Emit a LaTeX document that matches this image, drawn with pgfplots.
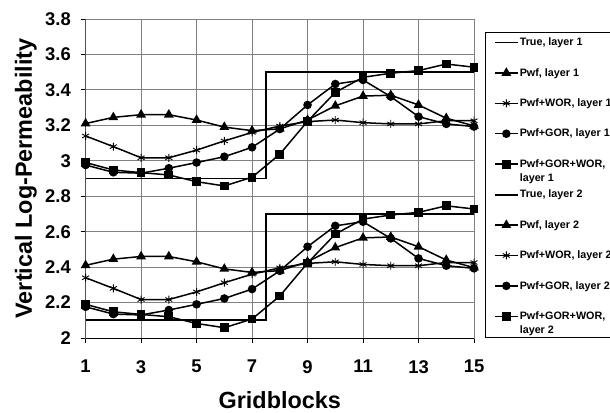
\documentclass[border=0pt]{standalone}
\usepackage{fontspec}
\setmainfont{Liberation Sans}
\usepackage{pgfplots}
\pgfplotsset{compat=1.18}

% Estimated vertical log-permeability along the gridblocks, layer 1
\pgfplotstableread{
x  pwf    wor    gor    gorwor
1  3.210  3.140  2.976  2.990
2  3.245  3.080  2.935  2.948
3  3.260  3.017  2.930  2.933
4  3.260  3.017  2.958  2.920
5  3.230  3.060  2.990  2.882
6  3.190  3.112  3.023  2.858
7  3.170  3.160  3.076  2.907
8  3.180  3.196  3.179  3.037
9  3.230  3.221  3.315  3.223
10 3.310  3.230  3.433  3.386
11 3.365  3.215  3.456  3.471
12 3.370  3.208  3.362  3.494
13 3.315  3.208  3.249  3.509
14 3.240  3.226  3.208  3.546
15 3.197  3.226  3.193  3.528
}\layerone

% Same estimates for layer 2
\pgfplotstableread{
x  pwf    wor    gor    gorwor
1  2.410  2.340  2.176  2.190
2  2.445  2.280  2.135  2.148
3  2.460  2.217  2.130  2.133
4  2.460  2.217  2.158  2.120
5  2.430  2.260  2.190  2.082
6  2.390  2.312  2.223  2.058
7  2.370  2.360  2.276  2.107
8  2.380  2.396  2.379  2.237
9  2.430  2.421  2.515  2.423
10 2.510  2.430  2.633  2.586
11 2.565  2.415  2.656  2.671
12 2.570  2.408  2.562  2.694
13 2.515  2.408  2.449  2.709
14 2.440  2.426  2.408  2.746
15 2.397  2.426  2.393  2.728
}\layertwo

\begin{document}
\begin{tikzpicture}
\begin{axis}[
  at={(0,0)}, anchor=south west,
  scale only axis, width=388.4bp, height=319bp,
  xmin=1, xmax=15, ymin=2, ymax=3.8,
  xtick={1,3,5,7,9,11,13,15},
  ytick={2,2.2,2.4,2.6,2.8,3,3.2,3.4,3.6,3.8},
  grid=major,
  major grid style={black!50, line width=0.9bp},
  axis line style={black!50, line width=0.9bp},
  tick pos=left, tick align=outside, major tick length=5bp,
  tick style={black, line width=0.9bp},
  /pgf/number format/assume math mode=true,
  ticklabel style={font=\fontsize{18.5}{20}\selectfont\bfseries, inner sep=0pt},
  xticklabel style={yshift=-17bp},
  yticklabel style={xshift=-9.6bp},
  xlabel={Gridblocks},
  ylabel={Vertical Log-Permeability},
  label style={font=\fontsize{23.5}{26}\selectfont\bfseries},
  xlabel style={at={(axis description cs:0.5,-0.1944)}, anchor=center},
  ylabel style={at={(axis description cs:-0.1535,0.5)}, anchor=center},
  every axis plot/.append style={black, line width=1.5bp},
  legend image code/.code={%
    \draw[mark repeat=2, mark phase=2, #1]
      plot coordinates {(0bp,0bp) (11.35bp,0bp) (22.7bp,0bp)};},
  legend cell align=left,
  legend style={
    name=leg,
    at={(axis description cs:1.0301,0.9583)}, anchor=north west,
    draw=none, fill=none,
    inner xsep=8.3bp, inner ysep=5.4bp,
    row sep=21.1bp, column sep=1.3bp,
    font=\fontsize{10.8}{14}\selectfont\bfseries,
    nodes={inner sep=0pt},
  },
]
% step profiles of the true permeability
\addplot[line width=1.6bp] coordinates {(1,2.9) (7.5,2.9) (7.5,3.5) (15,3.5)};
\addlegendentry{True, layer 1}
\addplot[mark=triangle*, mark size=4.2bp] table[x=x, y=pwf] {\layerone};
\addlegendentry{Pwf, layer 1}
\addplot[mark=asterisk, mark size=4bp, mark options={line width=0.9bp}] table[x=x, y=wor] {\layerone};
\addlegendentry{Pwf+WOR, layer 1}
\addplot[mark=*, mark size=3.5bp] table[x=x, y=gor] {\layerone};
\addlegendentry{Pwf+GOR, layer 1}
\addplot[mark=square*, mark size=3.6bp] table[x=x, y=gorwor] {\layerone};
\addlegendentry{\raisebox{0pt}[8bp][2.3bp]{\begin{tabular}[t]{@{}l@{}}Pwf+GOR+WOR,\\layer 1\end{tabular}}}
\addplot[line width=1.6bp] coordinates {(1,2.1) (7.5,2.1) (7.5,2.7) (15,2.7)};
\addlegendentry{True, layer 2}
\addplot[mark=triangle*, mark size=4.2bp] table[x=x, y=pwf] {\layertwo};
\addlegendentry{Pwf, layer 2}
\addplot[mark=asterisk, mark size=4bp, mark options={line width=0.9bp}] table[x=x, y=wor] {\layertwo};
\addlegendentry{Pwf+WOR, layer 2}
\addplot[mark=*, mark size=3.5bp] table[x=x, y=gor] {\layertwo};
\addlegendentry{Pwf+GOR, layer 2}
\addplot[mark=square*, mark size=3.6bp] table[x=x, y=gorwor] {\layertwo};
\addlegendentry{\raisebox{0pt}[8bp][2.3bp]{\begin{tabular}[t]{@{}l@{}}Pwf+GOR+WOR,\\layer 2\end{tabular}}}
% left and bottom axis lines in black
\draw[black, line width=0.9bp] (rel axis cs:0,1) -- (rel axis cs:0,0) -- (rel axis cs:1,0);
\end{axis}
% legend frame, taken down past the second line of the last entry
\draw[black, line width=0.9bp] (leg.north west) rectangle ([yshift=-11bp]leg.south east);
\pgfresetboundingbox
\path[use as bounding box] (-85.6bp,-75bp) rectangle (524.4bp,338bp);
\end{tikzpicture}
\end{document}
